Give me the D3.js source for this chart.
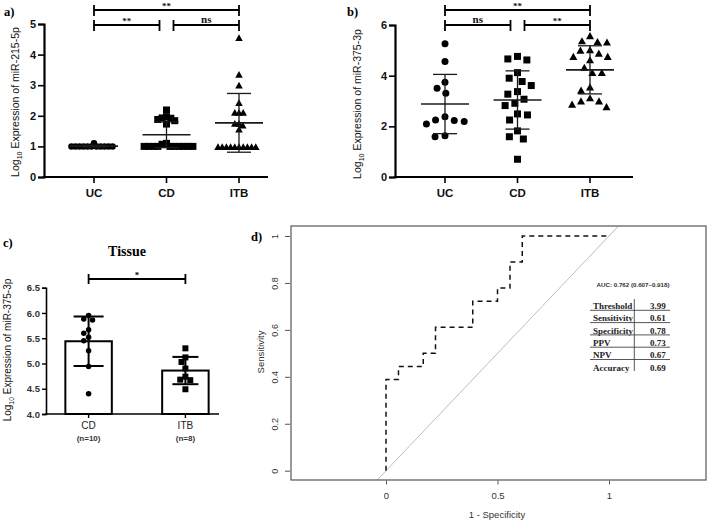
<!DOCTYPE html>
<html><head><meta charset="utf-8">
<script src="https://cdn.jsdelivr.net/npm/d3@7"></script>
<style>html,body{margin:0;padding:0;background:#fff;}svg{display:block;}</style>
</head><body>
<svg id="chart" width="708" height="521"></svg>
<script>
// ---------- DATA ----------
const groupsAB = ["UC", "CD", "ITB"];
// Panel a: miR-215-5p
const aUC  = [1,1,1,1,1,1,1,1,1,1,1,1.1];
const aCD  = [2.19,1.97,1.92,1.88,1.93,1.84,1.73,1.1,1.07,1,1,1,1,1,1,1,1,1,1];
const aITB = [4.53,3.33,2.98,2.41,2.09,2.09,2.09,1.73,1.73,1.67,1.54,0.97,0.97,0.97,0.97,0.97,0.97,0.97,0.97,0.97,0.97];
const aMean = [1.01, 1.38, 1.77];
const aSD   = [0.03, 0.42, 0.96];
const aTicks = [0,1,2,3,4,5];
// Panel b: miR-375-3p
const bUC  = [5.26,4.56,3.74,3.5,3.31,2.23,2.19,2.09,2.25,2.38,1.63,1.59];
const bCD  = [4.66,4.62,4.76,4.12,3.77,3.9,3.61,3.37,3.07,3.27,2.91,2.45,2.82,2.49,2.25,1.82,1.59,1.5,0.7];
const bITB = [5.55,5.3,5.32,5.35,5.0,4.98,4.73,4.86,4.73,4.6,4.3,4.1,4.1,3.4,3.53,3.1,2.98,2.98,2.85,2.75];
const bMean = [2.88, 3.04, 4.23];
const bSD   = [1.17, 1.15, 0.95];
const bTicks = [0,2,4,6];
// Significance
const aSig = [{from:"UC",to:"ITB",label:"**",row:0},{from:"UC",to:"CD",label:"**",row:1},{from:"CD",to:"ITB",label:"ns",row:1}];
const bSig = [{from:"UC",to:"ITB",label:"**",row:0},{from:"UC",to:"CD",label:"ns",row:1},{from:"CD",to:"ITB",label:"**",row:1}];
// Panel c: tissue
const groupsC = ["CD", "ITB"];
const groupsCn = ["(n=10)", "(n=8)"];
const cCD  = [5.95,5.88,5.86,5.67,5.6,5.52,5.45,5.25,4.94,4.4];
const cITB = [5.3,5.12,5.03,4.9,4.74,4.68,4.67,4.49];
const cMean = [5.44, 4.86];
const cSD   = [0.49, 0.27];
const cTicks = [4.0,4.5,5.0,5.5,6.0,6.5];
// Panel d: ROC
const rocFPR = [0,0,0.056,0.056,0.167,0.167,0.222,0.222,0.389,0.389,0.5,0.5,0.556,0.556,0.611,0.611,1];
const rocTPR = [0,0.389,0.389,0.444,0.444,0.5,0.5,0.611,0.611,0.722,0.722,0.778,0.778,0.889,0.889,1,1];
const dXTicks = [0,0.5,1];
const dYTicks = [0,0.2,0.4,0.6,0.8,1];
const aucText = "AUC: 0.762 (0.607\u20130.918)";
const tableLabels = ["Threshold","Sensitivity","Specificity","PPV","NPV","Accuracy"];
const tableValues = ["3.99","0.61","0.78","0.73","0.67","0.69"];

// ---------- HELPERS ----------
const svg = d3.select("#chart");
const SANS = "'Liberation Sans', Arial, sans-serif";
const SERIF = "'Liberation Serif', 'Times New Roman', serif";

function swarm(vals, yScale, d) {
  const pts = vals.map((v,i)=>({v,i,py:yScale(v),x:0}));
  const order = pts.slice().sort((a,b)=>a.py-b.py);
  const placed = [];
  for (const p of order) {
    const forb = [];
    for (const q of placed) {
      const dy = Math.abs(p.py-q.py);
      if (dy < d) { const dx = Math.sqrt(d*d-dy*dy); forb.push([q.x-dx, q.x+dx]); }
    }
    const cands = [0];
    forb.forEach(f=>{cands.push(f[0], f[1]);});
    cands.sort((a,b)=>Math.abs(a)-Math.abs(b));
    for (const c of cands) {
      if (forb.every(f => c <= f[0]+1e-6 || c >= f[1]-1e-6)) { p.x = c; break; }
    }
    placed.push(p);
  }
  return pts;
}

function drawMarker(g, shape, x, y, s) {
  if (shape === "circle") {
    g.append("circle").attr("cx",x).attr("cy",y).attr("r",s/2).attr("fill","#000");
  } else if (shape === "square") {
    g.append("rect").attr("x",x-s/2).attr("y",y-s/2).attr("width",s).attr("height",s).attr("fill","#000");
  } else {
    const h = s*0.9;
    g.append("path").attr("d",`M${x},${y-h*0.6}L${x+s/2},${y+h*0.4}L${x-s/2},${y+h*0.4}Z`).attr("fill","#000");
  }
}

function ylabel(g, x, y, size, rest) {
  const t = g.append("text").attr("transform",`translate(${x},${y}) rotate(-90)`)
    .attr("text-anchor","middle").attr("font-family",SANS).attr("font-size",size).attr("fill","#111");
  t.append("tspan").text("Log");
  t.append("tspan").attr("font-size",size*0.68).attr("dy",size*0.28).text("10");
  t.append("tspan").attr("dy",-size*0.28).text(" " + rest);
}

// ---------- SCATTER PANELS (a, b) ----------
function scatterPanel(opt) {
  const g = svg.append("g");
  const x = d3.scalePoint().domain(groupsAB).range(opt.xRange);
  const y = d3.scaleLinear().domain(opt.yDomain).range(opt.yRange);
  const shapes = ["circle","square","triangle"];
  const sizes = opt.sizes;
  // points
  opt.data.forEach((vals,gi)=>{
    const pts = swarm(vals, y, opt.spacing[gi]);
    pts.forEach(p=>drawMarker(g, shapes[gi], x(groupsAB[gi]) + p.x, p.py, sizes[gi]));
  });
  // mean & sd
  groupsAB.forEach((gr,gi)=>{
    const cx = x(gr), m = opt.mean[gi], s = opt.sd[gi];
    const eg = g.append("g").attr("stroke","#1a1a1a").attr("fill","none");
    eg.append("line").attr("x1",cx).attr("x2",cx).attr("y1",y(m-s)).attr("y2",y(m+s)).attr("stroke-width",1.3);
    eg.append("line").attr("x1",cx-24).attr("x2",cx+24).attr("y1",y(m)).attr("y2",y(m)).attr("stroke-width",1.6);
    [m-s,m+s].forEach(v=>eg.append("line").attr("x1",cx-12).attr("x2",cx+12).attr("y1",y(v)).attr("y2",y(v)).attr("stroke-width",1.3));
  });
  // axes
  const yAxis = d3.axisLeft(y).tickValues(opt.yTicks).tickSize(6).tickPadding(2).tickFormat(d3.format("d"));
  const ya = g.append("g").attr("transform",`translate(${opt.xAxisStart},0)`).call(yAxis);
  ya.select(".domain").attr("stroke","#000").attr("stroke-width",2.2);
  ya.selectAll(".tick line").attr("stroke","#000").attr("stroke-width",1.6);
  ya.selectAll(".tick text").attr("font-family",SANS).attr("font-size",11).attr("font-weight","bold").attr("fill","#111");
  const xAxisScale = d3.scaleLinear().domain([0,1]).range([opt.xAxisStart, opt.xAxisEnd]);
  const xa = g.append("g").attr("transform",`translate(0,${opt.yRange[0]})`);
  xa.append("line").attr("x1",opt.xAxisStart-1).attr("x2",opt.xAxisEnd).attr("y1",0).attr("y2",0).attr("stroke","#000").attr("stroke-width",2.2);
  groupsAB.forEach(gr=>{
    xa.append("line").attr("x1",x(gr)).attr("x2",x(gr)).attr("y1",0).attr("y2",6).attr("stroke","#000").attr("stroke-width",1.6);
    xa.append("text").attr("x",x(gr)).attr("y",20).attr("text-anchor","middle").attr("font-family",SANS)
      .attr("font-size",11.5).attr("font-weight","bold").attr("fill","#111").text(gr);
  });
  // significance
  opt.sig.forEach(s=>{
    const by = s.row === 0 ? 10 : 25;
    let x1 = x(s.from), x2 = x(s.to);
    if (s.row === 1) { if (s.from === "CD") x1 += 7; else x2 -= 7; }
    const sg = g.append("g").attr("stroke","#000").attr("stroke-width",1.8);
    sg.append("line").attr("x1",x1).attr("x2",x2).attr("y1",by).attr("y2",by);
    sg.append("line").attr("x1",x1).attr("x2",x1).attr("y1",by-5).attr("y2",by+6);
    sg.append("line").attr("x1",x2).attr("x2",x2).attr("y1",by-5).attr("y2",by+6);
    g.append("text").attr("x",(x1+x2)/2).attr("y", s.label==="ns" ? by-2 : by-1).attr("text-anchor","middle")
      .attr("font-family",SERIF).attr("font-weight","bold").attr("font-size", s.label==="ns" ? 11 : 9).attr("fill","#111").text(s.label);
  });
  ylabel(g, opt.labelX, opt.labelY, 10.5, opt.labelText);
  g.append("text").attr("x",opt.tagX).attr("y",16).attr("font-family",SERIF).attr("font-weight","bold").attr("font-size",12.5).text(opt.tag);
}

scatterPanel({
  xRange:[94,239], yDomain:[0,5], yRange:[177,24], yTicks:aTicks,
  data:[aUC,aCD,aITB], mean:aMean, sd:aSD, sizes:[6.5,7,7.5], spacing:[4,4.6,4.2],
  xAxisStart:44, xAxisEnd:268, sig:aSig, labelX:19, labelY:102,
  labelText:"Expression of miR-215-5p", tag:"a)", tagX:4
});
scatterPanel({
  xRange:[445,590], yDomain:[0,6], yRange:[177,25], yTicks:bTicks,
  data:[bUC,bCD,bITB], mean:bMean, sd:bSD, sizes:[7,7,8], spacing:[10,10,9.5],
  xAxisStart:395, xAxisEnd:633, sig:bSig, labelX:361, labelY:104,
  labelText:"Expression of miR-375-3p", tag:"b)", tagX:347
});

// ---------- PANEL C ----------
(function(){
  const g = svg.append("g");
  const x = d3.scaleBand().domain(groupsC).range([46,228]).paddingInner(0.52).paddingOuter(0.2);
  const y = d3.scaleLinear().domain([4,6.5]).range([414,287.7]);
  const bw = x.bandwidth();
  groupsC.forEach((gr,gi)=>{
    g.append("rect").attr("x",x(gr)).attr("y",y(cMean[gi])).attr("width",bw).attr("height",y(4)-y(cMean[gi]))
      .attr("fill","#fff").attr("stroke","#000").attr("stroke-width",2);
  });
  const dat = [cCD,cITB], shp = ["circle","square"];
  dat.forEach((vals,gi)=>{
    const pts = swarm(vals, y, 6);
    const cx = x(groupsC[gi]) + bw/2;
    pts.forEach(p=>drawMarker(g, shp[gi], cx + p.x, p.py, gi===0?5.5:6));
  });
  groupsC.forEach((gr,gi)=>{
    const cx = x(gr)+bw/2, m=cMean[gi], s=cSD[gi], hw = gi===0?15:13;
    const eg = g.append("g").attr("stroke","#000").attr("stroke-width",2);
    eg.append("line").attr("x1",cx).attr("x2",cx).attr("y1",y(m-s)).attr("y2",y(m+s));
    [m-s,m+s].forEach(v=>eg.append("line").attr("x1",cx-hw).attr("x2",cx+hw).attr("y1",y(v)).attr("y2",y(v)));
  });
  const ya = g.append("g").attr("transform","translate(46,0)")
    .call(d3.axisLeft(y).tickValues(cTicks).tickSize(4).tickPadding(2).tickFormat(d3.format(".1f")));
  ya.select(".domain").attr("stroke","#000").attr("stroke-width",1.6);
  ya.selectAll(".tick line").attr("stroke","#000").attr("stroke-width",1.4);
  ya.selectAll(".tick text").attr("font-family",SANS).attr("font-size",9.5).attr("font-weight","bold").attr("fill","#333");
  g.append("line").attr("x1",45).attr("x2",219).attr("y1",414).attr("y2",414).attr("stroke","#000").attr("stroke-width",1.6);
  groupsC.forEach((gr,gi)=>{
    const cx = x(gr)+bw/2;
    g.append("line").attr("x1",cx).attr("x2",cx).attr("y1",414).attr("y2",418).attr("stroke","#000").attr("stroke-width",1.4);
    g.append("text").attr("x",cx).attr("y",429).attr("text-anchor","middle").attr("font-family",SANS).attr("font-size",10).attr("fill","#222").text(gr);
    g.append("text").attr("x",cx).attr("y",441).attr("text-anchor","middle").attr("font-family",SANS).attr("font-size",8).attr("font-weight","bold").attr("fill","#333").text(groupsCn[gi]);
  });
  const x1 = x("CD")+bw/2, x2 = x("ITB")+bw/2, by = 279;
  const sg = g.append("g").attr("stroke","#000").attr("stroke-width",1.8);
  sg.append("line").attr("x1",x1).attr("x2",x2).attr("y1",by).attr("y2",by);
  sg.append("line").attr("x1",x1).attr("x2",x1).attr("y1",by-5).attr("y2",by+5);
  sg.append("line").attr("x1",x2).attr("x2",x2).attr("y1",by-5).attr("y2",by+5);
  g.append("text").attr("x",(x1+x2)/2).attr("y",by-1).attr("text-anchor","middle").attr("font-family",SERIF).attr("font-size",9).attr("font-weight","bold").text("*");
  g.append("text").attr("x",127).attr("y",256).attr("text-anchor","middle").attr("font-family",SERIF).attr("font-weight","bold").attr("font-size",14).text("Tissue");
  ylabel(g, 11, 350, 10, "Expression of miR-375-3p");
  g.append("text").attr("x",3).attr("y",247).attr("font-family",SERIF).attr("font-weight","bold").attr("font-size",12.5).text("c)");
})();

// ---------- PANEL D ----------
(function(){
  const g = svg.append("g");
  const box = {l:291, r:706, t:226, b:480};
  const x = d3.scaleLinear().domain([0,1]).range([386,609]);
  const y = d3.scaleLinear().domain([0,1]).range([470.7,236]);
  g.append("clipPath").attr("id","dclip").append("rect").attr("x",box.l).attr("y",box.t).attr("width",box.r-box.l).attr("height",box.b-box.t);
  const xd = [x.invert(box.l), x.invert(box.r)];
  g.append("line").attr("clip-path","url(#dclip)").attr("x1",x(xd[0])).attr("y1",y(xd[0])).attr("x2",x(xd[1])).attr("y2",y(xd[1]))
    .attr("stroke","#bdbdbd").attr("stroke-width",1);
  const line = d3.line().x((d,i)=>x(rocFPR[i])).y((d,i)=>y(rocTPR[i]));
  g.append("path").datum(rocFPR).attr("d",line).attr("fill","none").attr("stroke","#111").attr("stroke-width",1.5).attr("stroke-dasharray","5,4");
  g.append("rect").attr("x",box.l).attr("y",box.t).attr("width",box.r-box.l).attr("height",box.b-box.t).attr("fill","none").attr("stroke","#555").attr("stroke-width",1.2);
  const ya = g.append("g").attr("transform",`translate(${box.l - 1},0)`).call(d3.axisLeft(y).tickValues(dYTicks).tickSize(5).tickPadding(4).tickFormat(d=>d===0||d===1?d3.format("d")(d):d3.format(".1f")(d)));
  ya.select(".domain").remove();
  ya.selectAll(".tick line").attr("stroke","#555");
  ya.selectAll(".tick text").attr("font-family",SANS).attr("font-size",9).attr("fill","#333")
    .attr("text-anchor","middle").attr("transform","rotate(-90)").attr("x",0).attr("y",0)
    .attr("dy",0).each(function(){ d3.select(this).attr("transform","translate(-12,0) rotate(-90)"); });
  const xa = g.append("g").attr("transform",`translate(0,${box.b+0.5})`).call(d3.axisBottom(x).tickValues(dXTicks).tickSize(4).tickPadding(8).tickFormat(d=>d===0.5?"0.5":d3.format("d")(d)));
  xa.select(".domain").remove();
  xa.selectAll(".tick line").attr("stroke","#555");
  xa.selectAll(".tick text").attr("font-family",SANS).attr("font-size",9.5).attr("fill","#333");
  g.append("text").attr("x",497).attr("y",518).attr("text-anchor","middle").attr("font-family",SANS).attr("font-size",9.5).attr("fill","#333").text("1 - Specificity");
  g.append("text").attr("transform","translate(264,352) rotate(-90)").attr("text-anchor","middle").attr("font-family",SANS).attr("font-size",9.5).attr("fill","#333").text("Sensitivity");
  g.append("text").attr("x",633).attr("y",287).attr("text-anchor","middle").attr("font-family",SANS).attr("font-size",6.2).attr("font-weight","bold").attr("fill","#333").text(aucText);
  const rowY = d3.scaleLinear().domain([0,1]).range([310.3, 322.6]);
  tableLabels.forEach((lab,i)=>{
    const ly = rowY(i);
    g.append("text").attr("x",593).attr("y",ly-1.2).attr("font-family",SERIF).attr("font-weight","bold").attr("font-size",9).attr("fill","#222").text(lab);
    g.append("text").attr("x",665.7).attr("y",ly-1.2).attr("text-anchor","end").attr("font-family",SERIF).attr("font-weight","bold").attr("font-size",9).attr("fill","#222").text(tableValues[i]);
    if (i < tableLabels.length-1) g.append("line").attr("x1",590).attr("x2",670).attr("y1",ly).attr("y2",ly).attr("stroke","#444").attr("stroke-width",0.9);
  });
  g.append("line").attr("x1",634.3).attr("x2",634.3).attr("y1",299).attr("y2",371).attr("stroke","#444").attr("stroke-width",0.9);
  g.append("text").attr("x",251).attr("y",241).attr("font-family",SERIF).attr("font-weight","bold").attr("font-size",12.5).text("d)");
})();
</script>
</body></html>
